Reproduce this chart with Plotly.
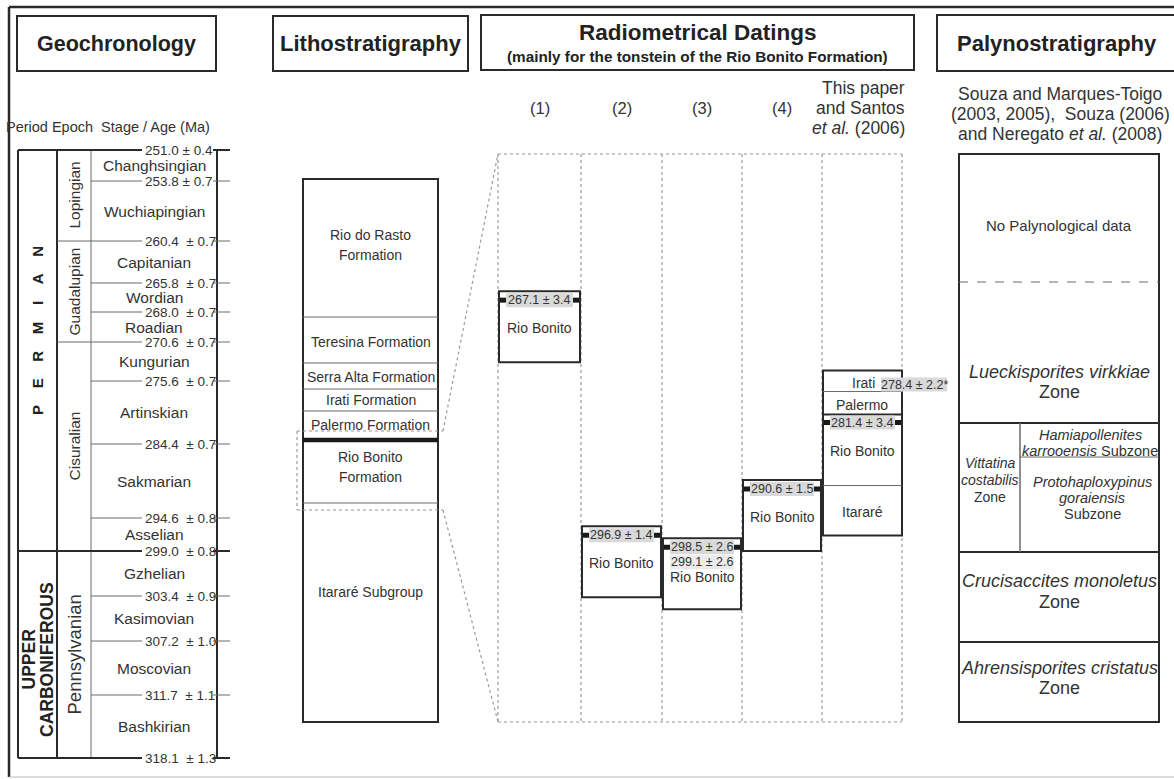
import numpy as np
import plotly.graph_objects as go

# ======================= DATA =======================
# Geochronology (ages in Ma)
stage_names = ["Changhsingian", "Wuchiapingian", "Capitanian", "Wordian", "Roadian",
               "Kungurian", "Artinskian", "Sakmarian", "Asselian", "Gzhelian",
               "Kasimovian", "Moscovian", "Bashkirian"]
boundary_ages = [251.0, 253.8, 260.4, 265.8, 268.0, 270.6, 275.6, 284.4, 294.6,
                 299.0, 303.4, 307.2, 311.7, 318.1]
boundary_errors = [0.4, 0.7, 0.7, 0.7, 0.7, 0.7, 0.7, 0.7, 0.8, 0.8, 0.9, 1.0, 1.1, 1.3]
epoch_names = ["Lopingian", "Guadalupian", "Cisuralian", "Pennsylvanian"]
epoch_bounds = [251.0, 260.4, 270.6, 299.0, 318.1]
period_bounds = [251.0, 299.0, 318.1]

# Lithostratigraphy
litho_units = ["Rio do Rasto<br>Formation", "Teresina Formation", "Serra Alta Formation",
               "Irati Formation", "Palermo Formation", "Rio Bonito<br>Formation",
               "Itararé Subgroup"]

# Radiometrical datings
dating_refs = ["(1)", "(2)", "(3)", "(4)"]
dating_ages = [267.1, 296.9, 298.5, 290.6]
dating_errors = [3.4, 1.4, 2.6, 1.5]
extra_age_col3 = (299.1, 2.6)
this_paper_age = (281.4, 3.4)
irati_age = (278.4, 2.2)
col5_units = ["Irati", "Palermo", "Rio Bonito", "Itararé"]

# Palynostratigraphy
palyno_ref = ["Souza and Marques-Toigo", "(2003, 2005),  Souza (2006)",
              "and Neregato <i>et al.</i> (2008)"]
palyno_zones = ["No Palynological data",
                "<i>Lueckisporites virkkiae</i><br>Zone",
                "<i>Vittatina</i><br><i>costabilis</i><br>Zone",
                "<i>Hamiapollenites</i><br><i>karrooensis</i> Subzone",
                "<i>Protohaploxypinus</i><br><i>goraiensis</i><br>Subzone",
                "<i>Crucisaccites monoletus</i><br>Zone",
                "<i>Ahrensisporites cristatus</i><br>Zone"]

# ======================= LAYOUT =======================
W, H = 1174, 779
FONT = "Liberation Sans, Arial, sans-serif"
DARK = "#2a2a2a"
GRAY = "#6a6a6a"
TXT = "#333333"
DOT = "#9a9a9a"

BOUND_Y = [150, 181, 241, 283, 312, 342, 381, 444, 518, 551, 596, 641, 695, 758]


def age_y(a):
    return float(np.interp(a, boundary_ages, BOUND_Y))


shapes, annots = [], []


def line(x0, y0, x1, y1, w=1.0, c=DARK, dash=None):
    d = dict(width=w, color=c)
    if dash:
        d["dash"] = dash
    shapes.append(dict(type="line", xref="x", yref="y", x0=x0, y0=y0, x1=x1, y1=y1, line=d))


def rect(x0, y0, x1, y1, w=2.0, c=DARK, fill=None):
    s = dict(type="rect", xref="x", yref="y", x0=x0, y0=y0, x1=x1, y1=y1,
             line=dict(width=w, color=c))
    if fill:
        s["fillcolor"] = fill
    if w == 0:
        s["line"] = dict(width=0)
    shapes.append(s)


def text(x, y, s, size, bold=False, xa="center", angle=0, color=TXT):
    annots.append(dict(x=x, y=y, xref="x", yref="y", text=s, showarrow=False,
                       xanchor=xa, yanchor="middle", textangle=angle,
                       font=dict(family=FONT, size=size, color=color,
                                 weight="bold" if bold else "normal")))


def mtext(x, y, s, size, spacing, **kw):
    parts = s.split("<br>")
    n = len(parts)
    for k, p in enumerate(parts):
        text(x, y + (k - (n - 1) / 2) * spacing, p, size, **kw)


# ---------- outer frame ----------
line(9, 7, 9, 777, 2.5)
line(9, 7, W, 7, 2.5)
line(9, 777, W, 777, 1, "#bbbbbb")

# ---------- headers ----------
rect(17, 16, 216, 71)
text(116.5, 43.5, "Geochronology", 21.5, bold=True, color="#222")
rect(273, 16, 468, 71)
text(370.5, 43.5, "Lithostratigraphy", 22, bold=True, color="#222")
rect(481, 15, 914, 70)
text(697.5, 32, "Radiometrical Datings", 22.5, bold=True, color="#222")
text(697.5, 56, "(mainly for the tonstein of the Rio Bonito Formation)", 15.3, bold=True, color="#222")
rect(937, 15, W + 5, 71)
text(1057, 43, "Palynostratigraphy", 22, bold=True, color="#222")

# ---------- Geochronology column ----------
XP0, XP1, XE1, XS1 = 18, 57, 91, 217
LBL_X, TICK0, TICK1 = 143, 213, 230
text(4, 127, "Period\u00a0Epoch\u00a0\u00a0Stage / Age (Ma)", 14.5, xa="left")
y_top, y_bot = age_y(boundary_ages[0]), age_y(boundary_ages[-1])
line(XP0, y_top, XP0, y_bot, 2)
line(XP1, y_top, XP1, y_bot, 2)
line(XE1, y_top, XE1, y_bot, 1, GRAY)
line(XS1, y_top, XS1, y_bot, 2)
for i, (a, e) in enumerate(zip(boundary_ages, boundary_errors)):
    y = age_y(a)
    if a in period_bounds:
        x0, w = XP0, 2
    elif a in epoch_bounds:
        x0, w = XP1, 1
    else:
        x0, w = XE1, 1
    line(x0, y, LBL_X - 1, y, w, DARK if w == 2 else GRAY)
    line(TICK0, y, TICK1, y, w, DARK if w == 2 else GRAY)
    sep = " " if i < 2 else "\u00a0\u00a0"
    text(LBL_X, y, f"{a:.1f}{sep}± {e:.1f}", 13.5, xa="left")
for k, nm in enumerate(stage_names):
    ym = (age_y(boundary_ages[k]) + age_y(boundary_ages[k + 1])) / 2
    text(154, ym, nm, 15.5)
for k, nm in enumerate(epoch_names):
    ym = (age_y(epoch_bounds[k]) + age_y(epoch_bounds[k + 1])) / 2
    text(74, ym, nm, 18.5 if nm == "Pennsylvanian" else 15.5, angle=-90)
text(37, 331, "\u00a0\u00a0\u00a0\u00a0".join("PERMIAN"), 15, bold=True, angle=-90, color="#222")
yc = (age_y(period_bounds[1]) + age_y(period_bounds[2])) / 2
text(28, yc + 5, "UPPER", 17.5, bold=True, angle=-90, color="#222")
text(46.5, yc + 5, "CARBONIFEROUS", 17.5, bold=True, angle=-90, color="#222")

# ---------- Lithostratigraphy column ----------
LX0, LX1 = 303, 438
LITHO_Y = [179, 317, 363, 389, 411, 440, 503, 722]
LITHO_LBL_Y = [245, 342, 377, 400, 425, 467, 592]
rect(LX0, LITHO_Y[0], LX1, LITHO_Y[-1], 2)
for k in range(1, len(LITHO_Y) - 1):
    if k == 5:
        line(LX0, LITHO_Y[k], LX1, LITHO_Y[k], 4.5, "#1a1a1a")
    else:
        line(LX0, LITHO_Y[k], LX1, LITHO_Y[k], 1, GRAY)
for nm, y in zip(litho_units, LITHO_LBL_Y):
    mtext((LX0 + LX1) / 2, y, nm, 14, 20)

# zoom window (dotted)
ZX0, ZX1, ZY0, ZY1 = 297, 443, 431, 510
line(ZX0, ZY0, ZX1, ZY0, 1.2, DOT, "dot")
line(ZX0, ZY1, ZX1, ZY1, 1.2, DOT, "dot")
line(ZX0, ZY0, ZX0, ZY1, 1.2, DOT, "dot")

# ---------- Radiometrical datings ----------
RAD_X = [498, 581, 662, 742, 822, 902]
RY0, RY1 = 154, 722
line(ZX1, ZY0, RAD_X[0], RY0, 1.2, DOT, "dot")
line(ZX1, ZY1, RAD_X[0], RY1, 1.2, DOT, "dot")
line(RAD_X[0], RY0, RAD_X[-1], RY0, 1.2, DOT, "dot")
line(RAD_X[0], RY1, RAD_X[-1], RY1, 1.2, DOT, "dot")
for x in RAD_X:
    line(x, RY0, x, RY1, 1.2, DOT, "dot")

for k, r in enumerate(dating_refs):
    text((RAD_X[k] + RAD_X[k + 1]) / 2, 108, r, 16.5)
mtext(907, 108, "This paper<br>and Santos<br><i>et al.</i> (2006)", 17.5, 20, xa="right")


def date_band(x0, x1, y, label, squares=True, fill="#d9d9d9"):
    rect(x0 + 7, y - 7, x1 - 7, y + 7, 0, fill=fill)
    if squares:
        rect(x0 + 1, y - 2.5, x0 + 7, y + 2.5, 0, fill="#1a1a1a")
        rect(x1 - 7, y - 2.5, x1 - 1, y + 2.5, 0, fill="#1a1a1a")
    text((x0 + x1) / 2, y, label, 12.5)


BOX_H = 71
for k, (a, e) in enumerate(zip(dating_ages, dating_errors)):
    x0, x1 = RAD_X[k] + 1, RAD_X[k + 1] - 1
    yc_ = age_y(a)
    top = yc_ - 9
    rect(x0, top, x1, top + BOX_H, 2)
    date_band(x0, x1, yc_, f"{a:.1f} ± {e:.1f}")
    if k == 2:
        a2, e2 = extra_age_col3
        date_band(x0, x1, yc_ + 15, f"{a2:.1f} ± {e2:.1f}", squares=False, fill="#ebebeb")
        text((x0 + x1) / 2, top + 39, "Rio Bonito", 14)
    else:
        text((x0 + x1) / 2, top + 37, "Rio Bonito", 14)

# this paper column (composite)
x0, x1 = RAD_X[4] + 1, RAD_X[5]
yrb = age_y(this_paper_age[0])
rb_top = yrb - 8
tops = [rb_top - 44, rb_top - 23, rb_top, rb_top + 71]
bot = rb_top + 121
rect(x0, tops[0], x1, bot, 2)
line(x0, tops[1], x1, tops[1], 1, GRAY)
line(x0, tops[2], x1, tops[2], 2)
line(x0, tops[3], x1, tops[3], 1, GRAY)
ia, ie = irati_age
rect(881, tops[0] + 7, 947, tops[0] + 21, 0, fill="#d9d9d9")
text(914, tops[0] + 14, f"{ia:.1f} ± {ie:.1f}*", 12.5)
text(863, tops[0] + 12, col5_units[0], 14)
text(862, tops[1] + 13, col5_units[1], 14)
date_band(x0, x1, yrb, f"{this_paper_age[0]:.1f} ± {this_paper_age[1]:.1f}")
text(862, tops[2] + 36, col5_units[2], 14)
text(862, tops[3] + 26, col5_units[3], 14)

# ---------- Palynostratigraphy ----------
PX0, PX1, PY0, PY1 = 959, 1159, 154, 722
mtext(1060, 114, "<br>".join(palyno_ref), 17.5, 20)
rect(PX0, PY0, PX1, PY1, 2)
line(PX0, 282, PX1, 282, 1.2, GRAY, "dash")
for y in (423, 552, 642):
    line(PX0, y, PX1, y, 2)
line(1020, 423, 1020, 552, 1.5, GRAY)
line(1020, 457, PX1, 457, 1, GRAY)
text(1059, 225, palyno_zones[0], 15)
mtext(1059, 382, palyno_zones[1], 18, 20)
mtext(990, 480, palyno_zones[2], 14, 17)
mtext(1090, 443, palyno_zones[3], 14.5, 16)
mtext(1092, 498, palyno_zones[4], 14.5, 16)
mtext(1059, 591, palyno_zones[5], 18, 21)
mtext(1059, 678, palyno_zones[6], 18, 20)

fig = go.Figure()
fig.update_layout(
    width=W, height=H, margin=dict(l=0, r=0, t=0, b=0),
    paper_bgcolor="white", plot_bgcolor="white",
    xaxis=dict(range=[0, W], visible=False, fixedrange=True),
    yaxis=dict(range=[H, 0], visible=False, fixedrange=True),
    shapes=shapes, annotations=annots, showlegend=False,
)
fig.write_html(
    "out.html",
    config={"displayModeBar": False},
    post_script="document.body.style.margin='0px';document.body.style.padding='0px';"
                "document.documentElement.style.overflow='hidden';",
)
